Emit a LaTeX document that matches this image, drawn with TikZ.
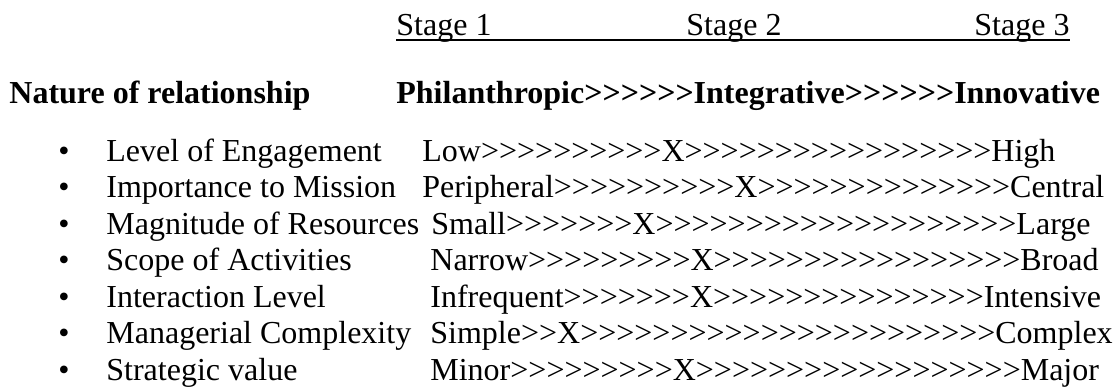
\documentclass[tikz,border=0pt]{standalone}
\usepackage{fontspec}
\setmainfont{Liberation Serif}
\usetikzlibrary{positioning}

% a run of n chevrons
\newcommand{\chev}[1]{\foreach \k in {1,...,#1}{>\kern0pt}}

\begin{document}
\begin{tikzpicture}[x=0.5pt, y=-0.5pt,
  every node/.style={inner sep=0pt, anchor=base west, font=\fontsize{16}{18.4}\selectfont},
  head/.style={font=\fontsize{16}{18.4}\selectfont\bfseries},
  dot/.style={anchor=base}
]
  \useasboundingbox (0,0) rectangle (1114,391);

  % Stage headings, underlined as one line
  \node (s1) at (396,35) {Stage 1};
  \node (s2) at (686,35) {Stage 2};
  \node (s3) at (974,35) {Stage 3};
  \draw[line width=0.6pt] ([yshift=-2.5pt]s1.base west) -- ([yshift=-2.5pt]s3.base east);

  % Nature of relationship
  \node[head] (nat) at (9,103) {Nature of relationship};
  \node[head] (natv) at (396,103) {Philanthropic\chev{6}Integrative\chev{6}Innovative};

  % Dimensions
  \node[dot] (b1) at (64,161) {•};
  \node (l1) at (106,161) {Level of Engagement};
  \node (v1) at (422,161) {Low\chev{10}X\chev{17}High};

  \node[dot] (b2) at (64,197.5) {•};
  \node (l2) at (106,197.5) {Importance to Mission};
  \node (v2) at (422,197.5) {Peripheral\chev{10}X\chev{14}Central};

  \node[dot] (b3) at (64,234) {•};
  \node (l3) at (106,234) {Magnitude of Resources};
  \node (v3) at (431,234) {Small\chev{7}X\chev{20}Large};

  \node[dot] (b4) at (64,270.5) {•};
  \node (l4) at (106,270.5) {Scope of Activities};
  \node (v4) at (430,270.5) {Narrow\chev{9}X\chev{17}Broad};

  \node[dot] (b5) at (64,307) {•};
  \node (l5) at (106,307) {Interaction Level};
  \node (v5) at (430,307) {Infrequent\chev{7}X\chev{15}Intensive};

  \node[dot] (b6) at (64,343.5) {•};
  \node (l6) at (106,343.5) {Managerial Complexity};
  \node (v6) at (430,343.5) {Simple\chev{2}X\chev{23}Complex};

  \node[dot] (b7) at (64,380) {•};
  \node (l7) at (106,380) {Strategic value};
  \node (v7) at (430,380) {Minor\chev{9}X\chev{18}Major};
\end{tikzpicture}
\end{document}
